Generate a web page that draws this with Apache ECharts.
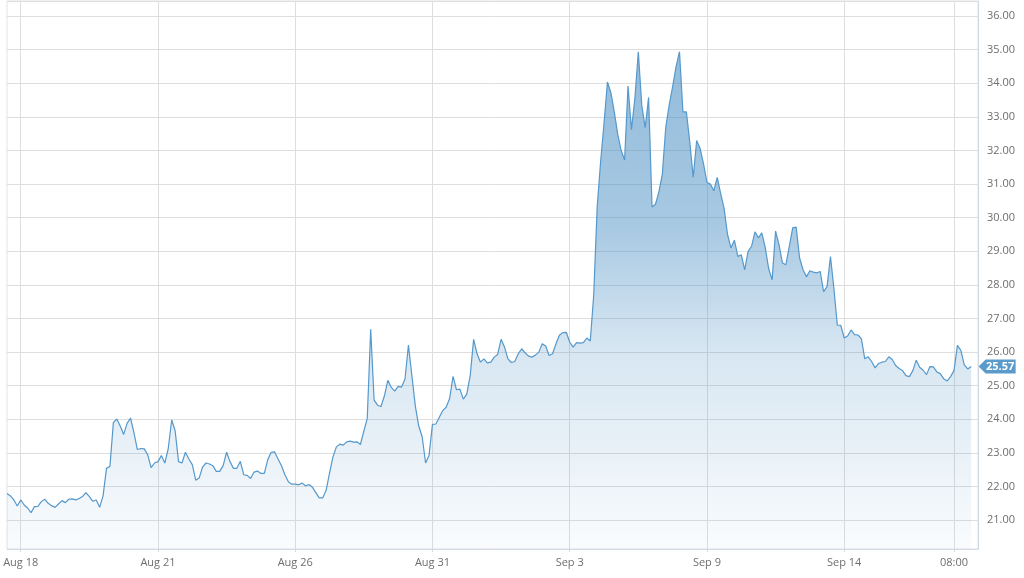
<!DOCTYPE html>
<html>
<head>
<meta charset="utf-8">
<style>
html,body{margin:0;padding:0;background:#fff;}
#chart{width:1024px;height:578px;}
</style>
<script src="https://cdn.jsdelivr.net/npm/echarts@6/dist/echarts.min.js"></script>
</head>
<body>
<div id="chart"></div>
<script>
const tickLabels = ['Aug 18','Aug 21','Aug 26','Aug 31','Sep 3','Sep 9','Sep 14','08:00'];
const tickIndex = [4,44,84,124,164,204,244,276];
const totalSlots = 284;
const values = [
21.79,21.72,21.60,21.42,21.60,21.45,21.36,21.22,21.40,21.41,
21.55,21.62,21.50,21.43,21.38,21.48,21.58,21.52,21.62,21.63,
21.60,21.64,21.70,21.82,21.70,21.56,21.60,21.38,21.72,22.54,
22.60,23.90,24.01,23.80,23.55,23.88,24.04,23.60,23.10,23.13,
23.12,22.95,22.56,22.70,22.74,22.92,22.70,23.13,23.98,23.66,
22.74,22.70,23.02,22.82,22.65,22.19,22.25,22.58,22.70,22.67,
22.62,22.45,22.45,22.62,23.02,22.74,22.54,22.54,22.75,22.35,
22.33,22.24,22.43,22.46,22.39,22.39,22.80,23.02,23.03,22.82,
22.62,22.35,22.14,22.07,22.07,22.05,22.10,22.02,22.06,21.98,
21.82,21.66,21.66,21.88,22.40,22.88,23.18,23.26,23.23,23.33,
23.35,23.32,23.33,23.25,23.65,24.03,26.68,24.57,24.42,24.38,
24.70,25.16,24.95,24.84,24.98,24.96,25.20,26.21,25.30,24.40,
23.80,23.48,22.70,22.92,23.85,23.86,24.06,24.26,24.36,24.62,
25.28,24.88,24.90,24.60,24.75,25.30,26.38,25.95,25.70,25.80,
25.68,25.70,25.85,25.93,26.38,26.15,25.80,25.69,25.72,25.95,
26.10,25.98,25.88,25.85,25.91,26.00,26.25,26.18,25.90,25.95,
26.25,26.50,26.58,26.59,26.30,26.15,26.28,26.27,26.28,26.42,
26.33,27.70,30.30,31.65,32.80,34.04,33.72,33.15,32.48,32.00,
31.72,33.92,32.62,33.55,34.94,33.35,32.68,33.58,30.32,30.40,
30.77,31.30,32.70,33.35,33.90,34.50,34.94,33.15,33.15,32.25,
31.20,32.30,32.06,31.60,31.05,31.00,30.80,31.20,30.72,30.28,
29.50,29.10,29.33,28.85,28.90,28.45,29.00,29.15,29.58,29.40,
29.55,29.10,28.48,28.15,29.60,29.20,28.65,28.60,29.15,29.70,
29.72,28.80,28.45,28.24,28.42,28.38,28.36,28.40,27.80,27.95,
28.84,27.90,26.80,26.80,26.42,26.48,26.66,26.52,26.51,26.40,
25.80,25.86,25.72,25.53,25.66,25.70,25.72,25.86,25.78,25.60,
25.51,25.45,25.30,25.27,25.45,25.76,25.55,25.46,25.33,25.57,
25.56,25.41,25.36,25.21,25.14,25.27,25.45,26.20,26.05,25.62,
25.50,25.57
];
const yMin = 20.14, yMax = 36.45;

const categories = [];
for (let i = 0; i < totalSlots; i++) {
  const k = tickIndex.indexOf(i);
  categories.push(k >= 0 ? tickLabels[k] : '');
}
const isTick = (i) => tickIndex.indexOf(i) >= 0;
const lastIdx = values.length - 1;
const lastVal = values[lastIdx];

const chart = echarts.init(document.getElementById('chart'));
chart.setOption({
  animation: false,
  backgroundColor: '#ffffff',
  grid: { left: 7, right: 46, top: 1, bottom: 29, show: true, borderColor: '#dfe3ea', borderWidth: 1 },
  xAxis: {
    type: 'category',
    data: categories,
    boundaryGap: false,
    axisLine: { show: true, lineStyle: { color: '#d5dbe5' } },
    axisTick: { show: true, interval: isTick, length: 3, lineStyle: { color: '#d5dbe5' } },
    axisLabel: { interval: isTick, margin: 8, color: '#6e6e6e', fontSize: 11, fontFamily: 'Open Sans' },
    splitLine: { show: true, interval: isTick, lineStyle: { color: '#dedede', width: 1 } }
  },
  yAxis: {
    type: 'value',
    position: 'right',
    min: yMin,
    max: yMax,
    splitNumber: 14,
    axisLine: { show: true, lineStyle: { color: '#d0d8e4' } },
    axisTick: { show: false },
    axisLabel: {
      margin: 9, color: '#6e6e6e', fontSize: 11, fontFamily: 'Open Sans',
      showMinLabel: false, showMaxLabel: false,
      formatter: (v) => v.toFixed(2)
    },
    splitLine: { show: true, lineStyle: { color: '#dedede', width: 1 } }
  },
  series: [{
    type: 'line',
    data: values,
    showSymbol: false,
    symbol: 'none',
    lineStyle: { color: '#5598cb', width: 1.2 },
    areaStyle: {
      origin: 'start',
      color: new echarts.graphic.LinearGradient(0, 0, 0, 1, [
        { offset: 0, color: 'rgba(66,138,193,0.82)' },
        { offset: 0.35, color: 'rgba(66,138,193,0.66)' },
        { offset: 0.6, color: 'rgba(66,138,193,0.30)' },
        { offset: 1, color: 'rgba(66,138,193,0.04)' }
      ])
    },
    markPoint: {
      silent: true,
      symbol: 'path://M0,7 L7,0 L37,0 L37,14 L7,14 Z',
      symbolSize: [37, 14],
      symbolKeepAspect: false,
      data: [{ coord: [lastIdx, lastVal], value: lastVal,
        symbolOffset: [26, 0],
        itemStyle: { color: '#5a9bcb' },
        label: { show: true, color: '#ffffff', fontWeight: 'bold', fontSize: 11, fontFamily: 'Open Sans',
          offset: [3, 0], formatter: (p) => p.value.toFixed(2) } }]
    }
  }]
});
</script>
</body>
</html>
